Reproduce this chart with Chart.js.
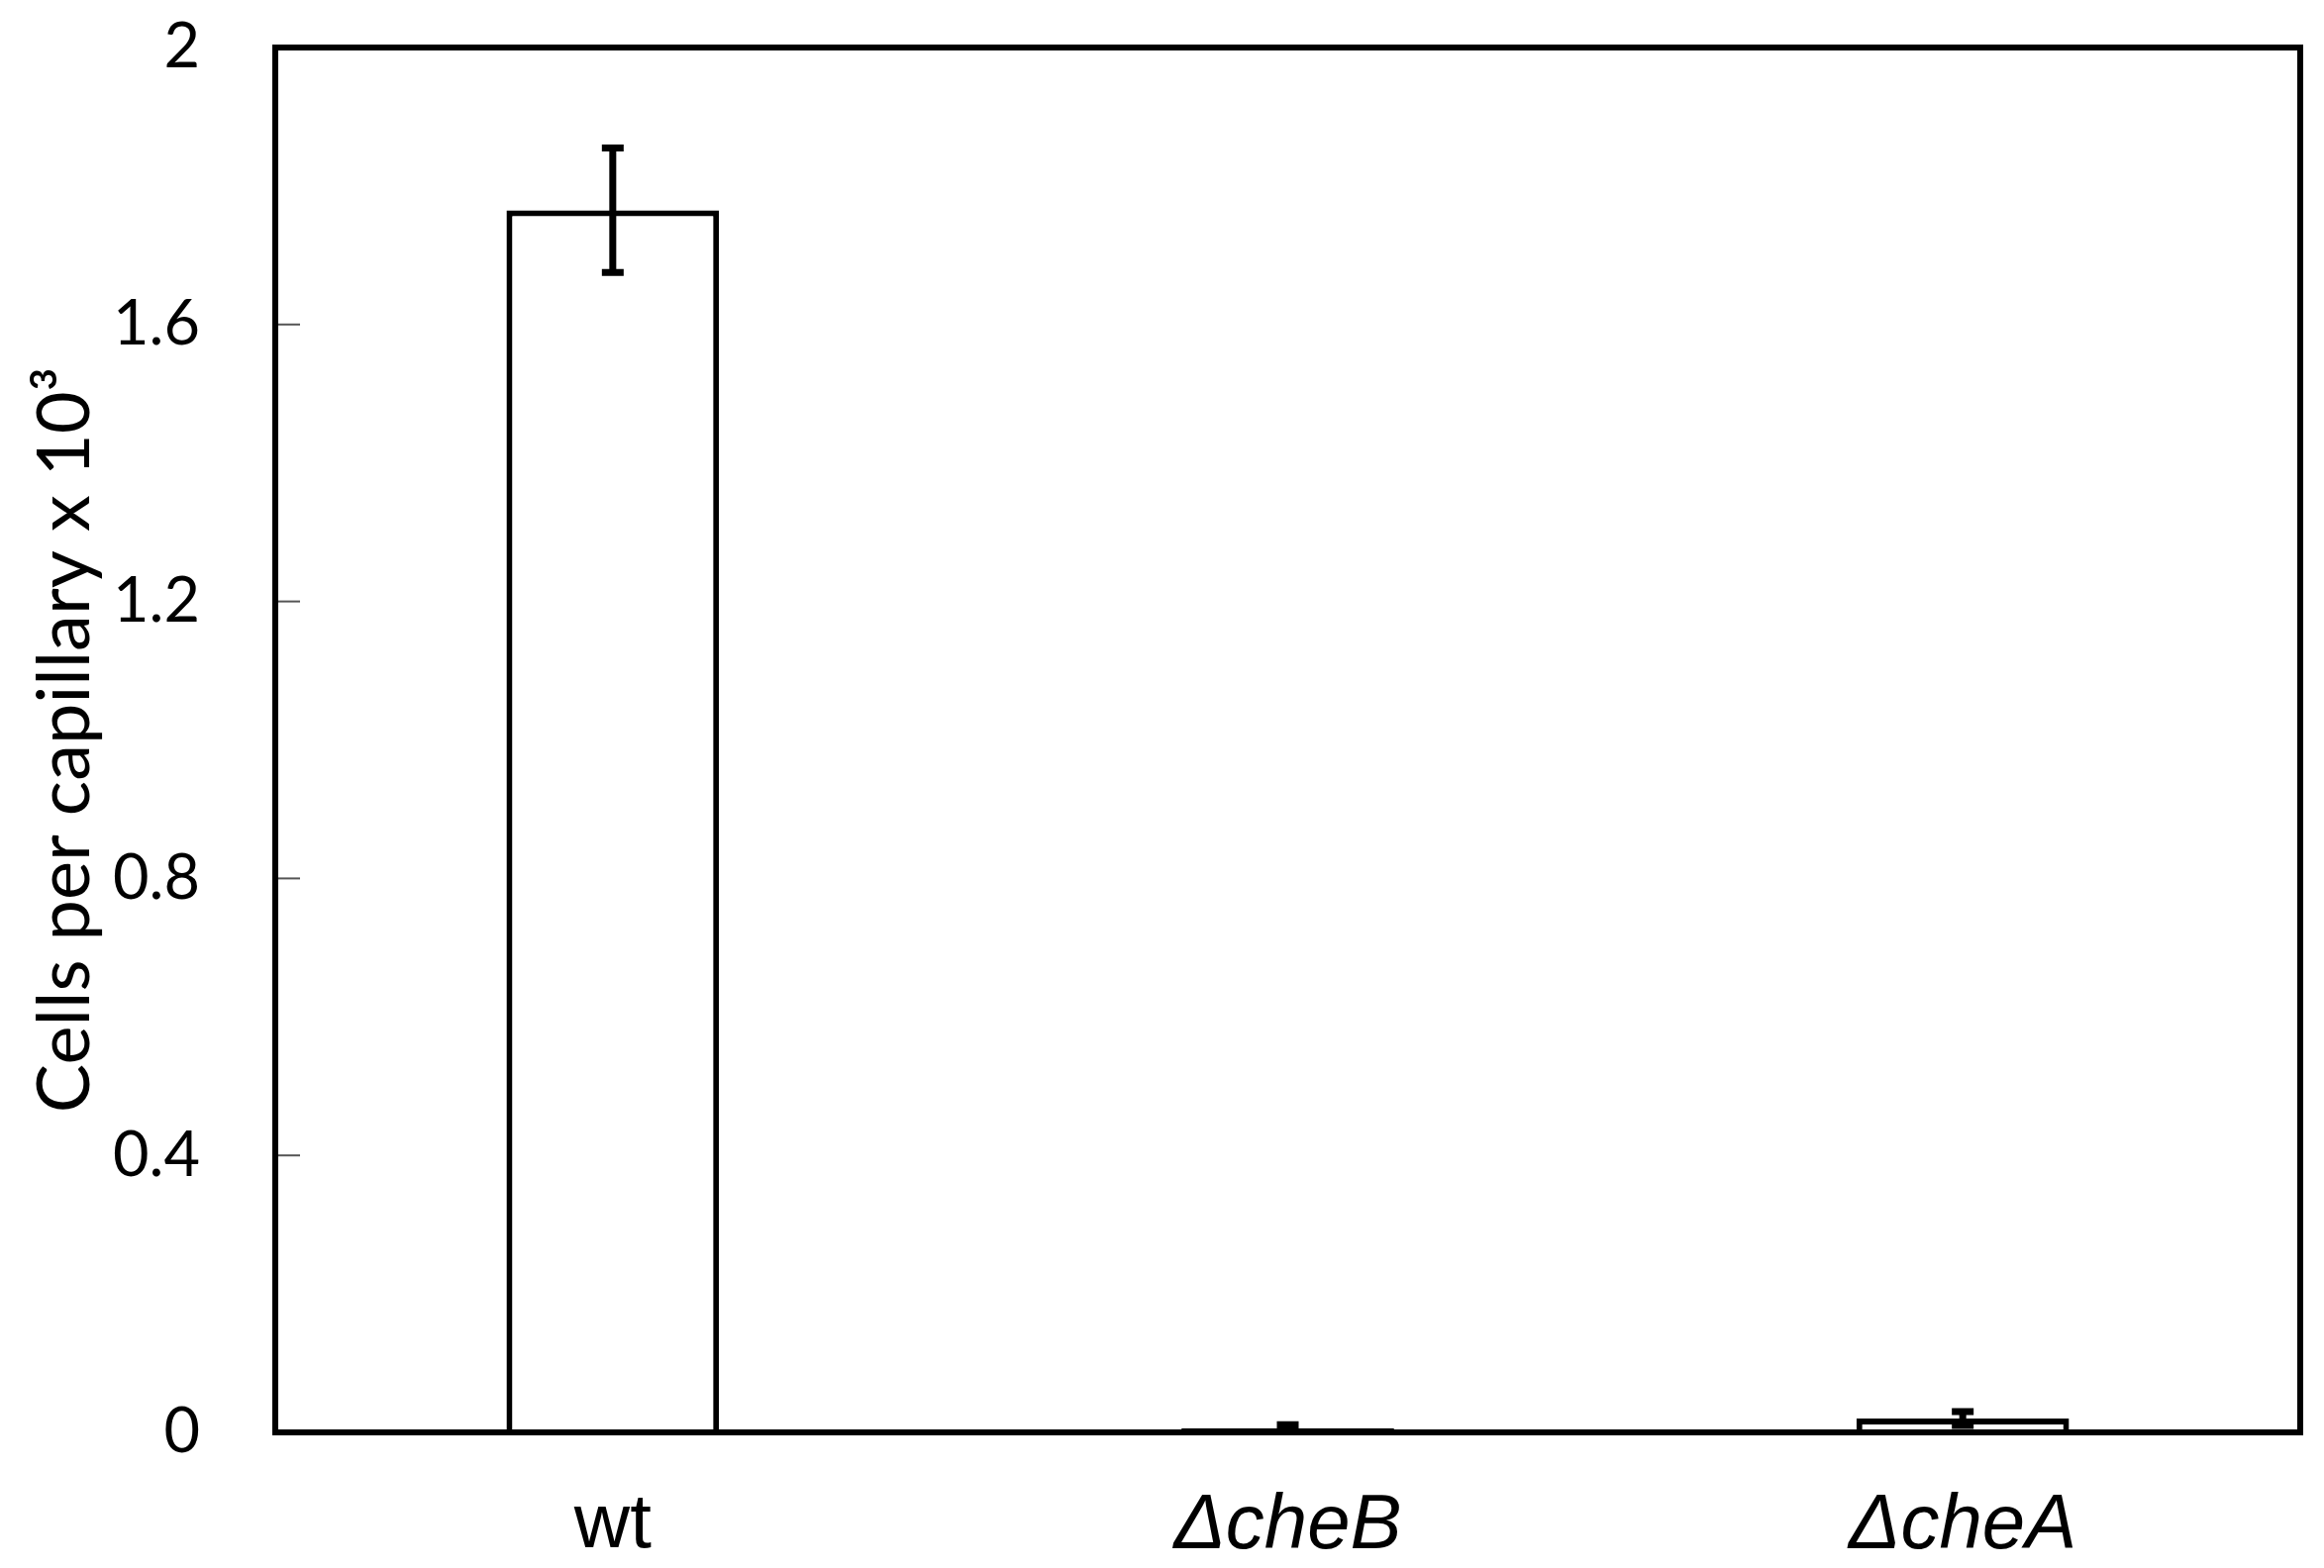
<!DOCTYPE html>
<html>
<head>
<meta charset="utf-8">
<script src="https://cdn.jsdelivr.net/npm/chart.js@4"></script>
<style>
  html, body { margin: 0; padding: 0; background: #fff; }
  #wrap { width: 2347px; height: 1584px; }
</style>
</head>
<body>
<div id="wrap"><canvas id="capChart" width="2347" height="1584"></canvas></div>
<script>
// data
const strains = ['wt', '\u0394cheB', '\u0394cheA'];
const cellCounts = [1.765, 0.006, 0.02];
const cellErrors = [0.09, 0.005, 0.01];
const yTicks = [0, 0.4, 0.8, 1.2, 1.6, 2];

// frame around the plot + short inward ticks on the y axis
const framePlugin = {
  id: 'frame',
  afterDraw(chart) {
    const { ctx, chartArea: a } = chart;
    const y = chart.scales.y;
    ctx.save();
    ctx.strokeStyle = '#555';
    ctx.lineWidth = 2;
    yTicks.forEach(v => {
      const py = y.getPixelForValue(v);
      ctx.beginPath();
      ctx.moveTo(a.left, py);
      ctx.lineTo(a.left + 25, py);
      ctx.stroke();
    });
    ctx.strokeStyle = '#000';
    ctx.lineWidth = 6;
    ctx.strokeRect(a.left, a.top, a.right - a.left, a.bottom - a.top);
    ctx.restore();
  }
};

// error bars drawn from the value/error arrays
const errorBarPlugin = {
  id: 'errorBars',
  afterDatasetsDraw(chart) {
    const { ctx } = chart;
    const y = chart.scales.y;
    const meta = chart.getDatasetMeta(0);
    ctx.save();
    ctx.strokeStyle = '#000';
    ctx.lineWidth = 7;
    meta.data.forEach((bar, i) => {
      const hi = y.getPixelForValue(cellCounts[i] + cellErrors[i]);
      const lo = y.getPixelForValue(Math.max(0, cellCounts[i] - cellErrors[i]));
      ctx.beginPath();
      ctx.moveTo(bar.x, hi);
      ctx.lineTo(bar.x, lo);
      ctx.moveTo(bar.x - 11, hi);
      ctx.lineTo(bar.x + 11, hi);
      ctx.moveTo(bar.x - 11, lo);
      ctx.lineTo(bar.x + 11, lo);
      ctx.stroke();
    });
    ctx.restore();
  }
};

const ctx = document.getElementById('capChart').getContext('2d');
new Chart(ctx, {
  type: 'bar',
  data: {
    labels: strains,
    datasets: [{
      data: cellCounts,
      backgroundColor: '#fff',
      borderColor: '#000',
      borderWidth: 6,
      borderSkipped: 'bottom',
      barPercentage: 0.315,
      categoryPercentage: 1
    }]
  },
  options: {
    responsive: false,
    animation: false,
    layout: { padding: { top: 48, right: 24, left: 0, bottom: 0 } },
    plugins: {
      legend: { display: false },
      tooltip: { enabled: false }
    },
    scales: {
      x: {
        grid: { display: false },
        border: { display: false },
        ticks: {
          color: '#000',
          padding: 40,
          font: c => ({
            family: '"Liberation Sans", Arial, sans-serif',
            size: 78,
            style: c.index === 0 ? 'normal' : 'italic'
          })
        },
        afterFit: s => { s.height = 137; s.paddingLeft = 0; s.paddingRight = 0; }
      },
      y: {
        min: 0,
        max: 2,
        afterBuildTicks: s => { s.ticks = yTicks.map(v => ({ value: v })); },
        grid: { display: false },
        border: { display: false },
        ticks: {
          color: '#000',
          padding: 68,
          font: { family: 'Lato, "Open Sans", sans-serif', size: 63 },
          callback: v => String(v)
        },
        title: {
          display: true,
          text: 'Cells per capillary x 10\u00b3',
          color: '#000',
          padding: { top: 22, bottom: 0 },
          font: { family: 'Lato, "Open Sans", sans-serif', size: 74 }
        },
        afterFit: s => { s.width = 278; s.paddingTop = 0; s.paddingBottom = 0; }
      }
    }
  },
  plugins: [framePlugin, errorBarPlugin]
});
</script>
</body>
</html>
